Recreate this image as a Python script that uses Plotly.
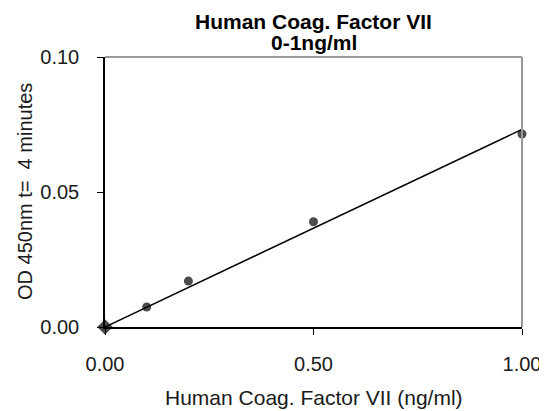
import numpy as np
import plotly.graph_objects as go

conc = [0.0, 0.1, 0.2, 0.5, 1.0]
od450 = [0.0, 0.0074, 0.017, 0.039, 0.0715]
x_ticks = [0.0, 0.5, 1.0]
x_tick_labels = ["0.00", "0.50", "1.00"]
y_ticks = [0.0, 0.05, 0.10]
y_tick_labels = ["0.00", "0.05", "0.10"]
title_lines = ["Human Coag. Factor VII", "0-1ng/ml"]
x_title = "Human Coag. Factor VII (ng/ml)"
y_title = "OD 450nm t=  4 minutes"

# linear trendline through origin
xa = np.array(conc)
ya = np.array(od450)
slope = float((xa * ya).sum() / (xa * xa).sum())
fit_x = [0.0, 1.0]
fit_y = [slope * v for v in fit_x]

font = "Liberation Sans, Arial, sans-serif"
txt = "#1a1a1a"

fig = go.Figure()
fig.add_trace(go.Scatter(x=fit_x, y=fit_y, mode="lines",
                         line=dict(color="black", width=1.5),
                         showlegend=False, cliponaxis=False, hoverinfo="skip"))
fig.add_trace(go.Scatter(x=conc, y=od450, mode="markers",
                         marker=dict(color="black", size=[12, 9, 9, 9, 9],
                                     symbol=["diamond", "circle", "circle", "circle", "circle"],
                                     line=dict(width=0)),
                         showlegend=False, cliponaxis=False))

fig.update_layout(
    width=539, height=403,
    margin=dict(l=97, r=25, t=49, b=84),
    paper_bgcolor="white", plot_bgcolor="white",
    font=dict(family=font, size=20, color=txt),
)
for i, line in enumerate(title_lines):
    fig.add_annotation(text="<b>%s</b>" % line, xref="paper", yref="paper",
                       x=0.5, y=1, xanchor="center", yanchor="middle",
                       yshift=[36, 15][i], showarrow=False,
                       font=dict(family=font, size=21, color="black"))
fig.add_annotation(text=x_title, xref="paper", yref="paper", x=0.5, y=0,
                   xanchor="center", yanchor="middle", yshift=-70, showarrow=False,
                   font=dict(family=font, size=21, color=txt))
fig.add_annotation(text=y_title, xref="paper", yref="paper", x=0, y=0.5,
                   xanchor="center", yanchor="middle", xshift=-80, textangle=-90,
                   showarrow=False, font=dict(family=font, size=20, color=txt))

fig.update_xaxes(range=[0, 1], tickvals=x_ticks, ticktext=x_tick_labels,
                 automargin=False,
                 showgrid=False, zeroline=False,
                 showline=True, linecolor="black", linewidth=1.5,
                 mirror=False, ticks="outside", ticklen=6, tickcolor="black",
                 ticklabelstandoff=12)
fig.update_yaxes(range=[0, 0.1], tickvals=y_ticks, ticktext=y_tick_labels,
                 automargin=False,
                 showgrid=False, zeroline=False,
                 showline=True, linecolor="black", linewidth=1.5,
                 ticks="outside", ticklen=6, tickcolor="black",
                 ticklabelstandoff=14)
# grey top/right frame
fig.add_shape(type="line", xref="paper", yref="paper", x0=0, x1=1, y0=1, y1=1,
              line=dict(color="#999999", width=2))
fig.add_shape(type="line", xref="paper", yref="paper", x0=1, x1=1, y0=0, y1=1,
              line=dict(color="#999999", width=2))

fig.write_html("out.html")
